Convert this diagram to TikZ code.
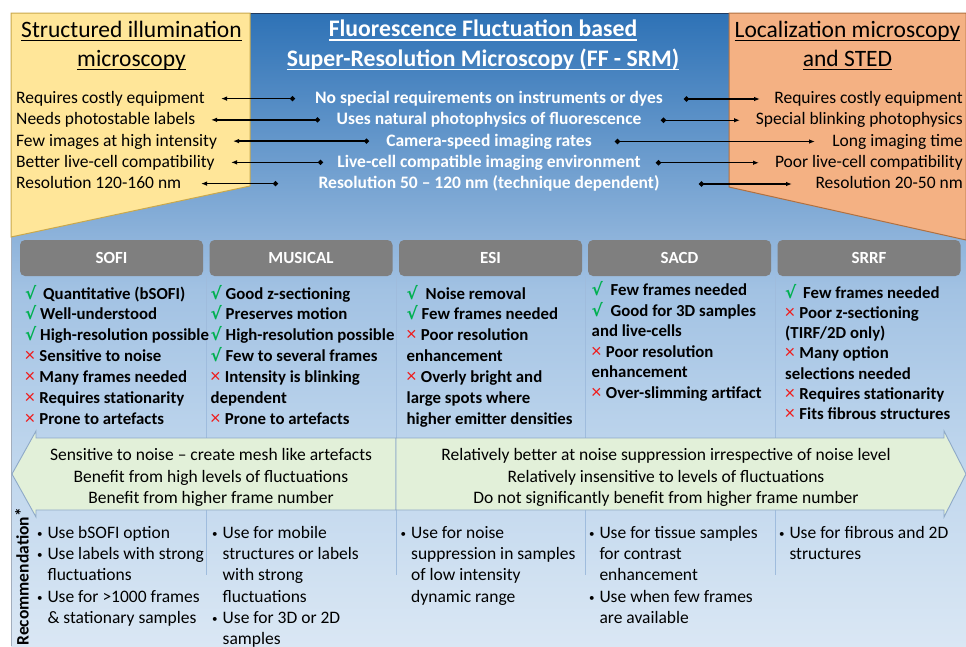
\documentclass[tikz,border=0pt]{standalone}
\usepackage{fontspec}
\setmainfont{Carlito}
\newfontfamily\dvsfont{DejaVu Sans}
\usetikzlibrary{arrows.meta}

\definecolor{bgA}{HTML}{DAE7F4}
\definecolor{bgB}{HTML}{BCD4EC}
\definecolor{bgC}{HTML}{A2C2E3}
\definecolor{bgD}{HTML}{8FB4DB}
\definecolor{bgE}{HTML}{2E72B6}
\definecolor{simfill}{HTML}{FFE699}
\definecolor{simedge}{HTML}{C9A84C}
\definecolor{locfill}{HTML}{F4B183}
\definecolor{locedge}{HTML}{B07040}
\definecolor{hdrgray}{HTML}{7F7F7F}
\definecolor{sepline}{HTML}{9FBCDD}
\definecolor{bandfill}{HTML}{E2F0D9}
\definecolor{bandedge}{HTML}{8EA9C8}
\definecolor{okgreen}{HTML}{00B050}
\definecolor{nored}{HTML}{F01A1A}
\definecolor{topedge}{HTML}{1F3A60}
\definecolor{leftedge}{HTML}{A3AEBD}

% background: dark blue at the top fading to pale blue at the bottom
\pgfdeclareverticalshading{bgshade}{100bp}{color(0bp)=(bgA); color(25bp)=(bgA); color(41.3bp)=(bgB); color(53.1bp)=(bgC); color(57bp)=(bgD); color(75bp)=(bgE); color(100bp)=(bgE)}

% underline at a fixed depth, crossing the descenders
\newcommand\uln[1]{\setbox0\hbox{#1}\rlap{\rule[-4pt]{\wd0}{1.3pt}}\box0}
\newcommand\ck{\textcolor{okgreen}{\dvsfont √}\hspace{3.8pt}}
\newcommand\xm{\textcolor{nored}{\mdseries\fontsize{19.5}{20}\selectfont ×}\hspace{4.5pt}}
\newcommand\bul{\llap{\raisebox{1.2pt}{\fontsize{11}{11}\selectfont\textbullet}\hspace{5pt}}}

\tikzset{
  ttl/.style={font=\fontsize{23.5}{28}\selectfont, inner sep=0, anchor=base},
  ttlmid/.style={font=\bfseries\fontsize{23.7}{28}\selectfont, text=white, inner sep=0, anchor=base},
  sidetxt/.style={font=\fontsize{17.5}{21}\selectfont, inner sep=0},
  midtxt/.style={font=\bfseries\fontsize{17.5}{21}\selectfont, text=white, inner sep=0, anchor=base},
  cmp/.style={{Circle[length=5pt]}-{Latex[length=6pt,width=4.6pt]}, line width=1.3pt, black},
  hdr/.style={fill=hdrgray, rounded corners=5pt, minimum width=183pt, minimum height=36pt,
              inner sep=0, text=white, font=\bfseries\fontsize{17}{20}\selectfont},
  item/.style={font=\bfseries\fontsize{16.8}{20}\selectfont, anchor=base west, inner sep=0},
  sep/.style={draw=sepline, line width=1pt},
  band/.style={fill=bandfill, draw=bandedge, line width=0.9pt},
  bandtxt/.style={font=\fontsize{17.5}{21}\selectfont, anchor=base, inner sep=0},
  rec/.style={font=\fontsize{17.5}{21}\selectfont, anchor=base west, inner sep=0}
}

\begin{document}
\begin{tikzpicture}[x=1pt,y=-1pt]
\useasboundingbox (0,0) rectangle (966,646);

% backdrop
\shade[shading=bgshade] (11,13) rectangle (966,646);
\draw[leftedge, line width=0.8pt] (11,237) -- (11,646);
\draw[topedge, line width=0.9pt] (250,13) -- (729,13);

% side panels
\filldraw[fill=simfill, draw=simedge, line width=1pt] (11,13) -- (250,13) -- (250,186) -- (11,237) -- cycle;
\filldraw[fill=locfill, draw=locedge, line width=1pt] (966,13) -- (729,13) -- (729,187) -- (966,240) -- cycle;

% titles
\node[ttl] (simT1) at (131.5,37.3) {\uln{Structured illumination}};
\node[ttl] (simT2) at (131.5,66) {\uln{microscopy}};
\node[ttlmid] (ffT1) at (483,36.7) {\uln{Fluorescence Fluctuation based}};
\node[ttlmid] (ffT2) at (483,66) {\uln{Super-Resolution Microscopy (FF - SRM)}};
\node[ttl] (locT1) at (847.5,37.3) {\uln{Localization microscopy}};
\node[ttl] (locT2) at (847.5,66) {\uln{and STED}};

% comparison rows
\foreach \l/\m/\r [count=\i from 0] in {
  Requires costly equipment/No special requirements on instruments or dyes/Requires costly equipment,
  Needs photostable labels/Uses natural photophysics of fluorescence/Special blinking photophysics,
  Few images at high intensity/Camera-speed imaging rates/Long imaging time,
  Better live-cell compatibility/Live-cell compatible imaging environment/Poor live-cell compatibility,
  Resolution 120-160 nm/Resolution 50 -- 120 nm (technique dependent)/Resolution 20-50 nm}
{
  \node[sidetxt, anchor=base west] (simR\i) at (16,{103.5+21.25*\i}) {\l};
  \node[midtxt] (ffR\i) at (489,{103.5+21.25*\i}) {\m};
  \node[sidetxt, anchor=base east] (locR\i) at (963,{103.5+21.25*\i}) {\r};
}

% arrows from the FF-SRM rows to both sides
\foreach \ld/\lt/\rd/\rt [count=\i from 0] in {295/221/684/760, 320/211/661/740, 369/233/615/815, 323/231/656/759, 278/201/699/792}
{
  \coordinate (ldot\i) at (\ld,{98.6+21.25*\i});
  \coordinate (ltip\i) at (\lt,{98.6+21.25*\i});
  \coordinate (rdot\i) at (\rd,{99+21.25*\i});
  \coordinate (rtip\i) at (\rt,{99+21.25*\i});
  \draw[cmp] (ldot\i) -- (ltip\i);
  \draw[cmp] (rdot\i) -- (rtip\i);
}

% column separators
\foreach \x [count=\i] in {206.5,396,585.5,775}
  \draw[sep] (\x,276) -- (\x,575);

% method headers
\node[hdr] (hSOFI) at (111.5,258) {SOFI};
\node[hdr] (hMUSICAL) at (301,258) {MUSICAL};
\node[hdr] (hESI) at (490.5,258) {ESI};
\node[hdr] (hSACD) at (679.5,258) {SACD};
\node[hdr] (hSRRF) at (869,258) {SRRF};

% pros and cons
\foreach \t [count=\i from 0] in {{\ck\hspace{3pt}Quantitative (bSOFI)},{\ck Well-understood},{\ck High-resolution possible},{\xm Sensitive to noise},{\xm Many frames needed},{\xm Requires stationarity},{\xm Prone to artefacts}}
  \node[item] (sofi\i) at (25,{299+20.9*\i}) {\t};
\foreach \t [count=\i from 0] in {{\ck Good z-sectioning},{\ck Preserves motion},{\ck High-resolution possible},{\ck Few to several frames},{\xm Intensity is blinking},{dependent},{\xm Prone to artefacts}}
  \node[item] (musical\i) at (210.5,{299+20.9*\i}) {\t};
\foreach \t [count=\i from 0] in {{\ck\hspace{4pt}Noise removal},{\ck Few frames needed},{\xm Poor resolution},{enhancement},{\xm Overly bright and},{large spots where},{higher emitter densities}}
  \node[item] (esi\i) at (406.5,{299+20.9*\i}) {\t};
\foreach \t [count=\i from 0] in {{\ck\hspace{4pt}Few frames needed},{\ck\hspace{4pt}Good for 3D samples},{and live-cells},{\xm Poor resolution},{enhancement},{\xm Over-slimming artifact}}
  \node[item] (sacd\i) at (591.5,{295.5+20.5*\i}) {\t};
\foreach \t [count=\i from 0] in {{\ck\hspace{3pt}Few frames needed},{\xm Poor z-sectioning},{(TIRF/2D only)},{\xm Many option},{selections needed},{\xm Requires stationarity},{\xm Fits fibrous structures}}
  \node[item] (srrf\i) at (785,{298+20.3*\i}) {\t};

% trend arrows
\filldraw[band] (396,438) -- (36,438) -- (36,431) -- (12,474) -- (36,517) -- (36,510) -- (396,510) -- cycle;
\filldraw[band] (396,438) -- (944,438) -- (944,431) -- (966,474) -- (944,517) -- (944,510) -- (396,510) -- cycle;
\foreach \a/\b [count=\i from 0] in {
  Sensitive to noise -- create mesh like artefacts/Relatively better at noise suppression irrespective of noise level,
  Benefit from high levels of fluctuations/Relatively insensitive to levels of fluctuations,
  Benefit from higher frame number/Do not significantly benefit from higher frame number}
{
  \node[bandtxt] (bandL\i) at (211,{460.7+21.6*\i}) {\a};
  \node[bandtxt] (bandR\i) at (666,{460.7+21.6*\i}) {\b};
}

% recommendations
\node[rotate=90, anchor=base east, inner sep=0, font=\bfseries\fontsize{17.5}{21}\selectfont] (recLabel) at (28.7,508) {Recommendation\raisebox{1pt}{*}};
\foreach \t [count=\i from 0] in {{\bul Use bSOFI option},{\bul Use labels with strong},{fluctuations},{\bul Use for >1000 frames},{\& stationary samples}}
  \node[rec] (recA\i) at (47.3,{538.3+21.3*\i}) {\t};
\foreach \t [count=\i from 0] in {{\bul Use for mobile},{structures or labels},{with strong},{fluctuations},{\bul Use for 3D or 2D},{samples}}
  \node[rec] (recB\i) at (222.5,{538.3+21.3*\i}) {\t};
\foreach \t [count=\i from 0] in {{\bul Use for noise},{suppression in samples},{of low intensity},{dynamic range}}
  \node[rec] (recC\i) at (411,{538.3+21.3*\i}) {\t};
\foreach \t [count=\i from 0] in {{\bul Use for tissue samples},{for contrast},{enhancement},{\bul Use when few frames},{are available}}
  \node[rec] (recD\i) at (599.3,{538.3+21.3*\i}) {\t};
\foreach \t [count=\i from 0] in {{\bul Use for fibrous and 2D},{structures}}
  \node[rec] (recE\i) at (789.3,{538.3+21.3*\i}) {\t};
\end{tikzpicture}
\end{document}
